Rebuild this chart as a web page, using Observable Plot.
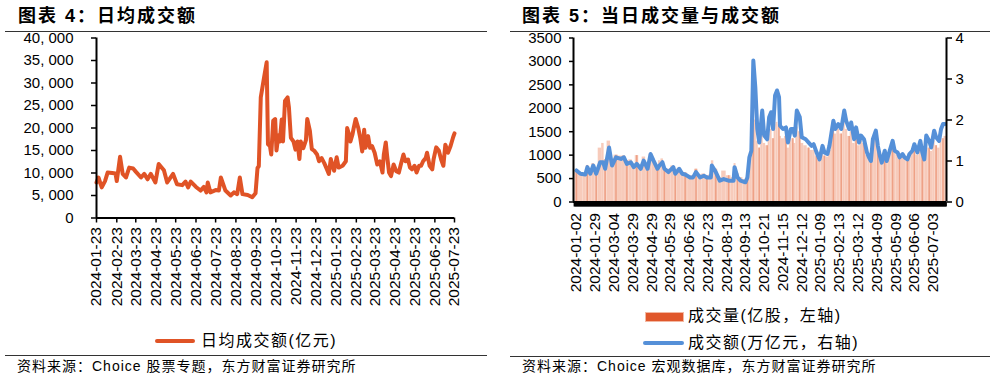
<!DOCTYPE html>
<html><head><meta charset="utf-8">
<script src="https://cdn.jsdelivr.net/npm/d3@7"></script>
<script src="https://cdn.jsdelivr.net/npm/@observablehq/plot@0.6"></script>
<style>
body{margin:0;background:#fff;width:997px;height:380px;position:relative;overflow:hidden;font-family:"Liberation Sans","Noto Sans CJK SC",sans-serif;color:#000;}
.abs{position:absolute;}
.title{position:absolute;font-family:"Liberation Sans","Noto Sans CJK SC",sans-serif;font-weight:bold;font-size:18px;letter-spacing:2px;line-height:18px;white-space:nowrap;}
.hr{position:absolute;height:0;border-top:1.5px solid #333;}
.src{position:absolute;font-family:"Liberation Sans","Noto Sans CJK SC",sans-serif;font-size:14px;letter-spacing:1px;line-height:14px;white-space:nowrap;}
.leg{position:absolute;font-family:"Liberation Sans","Noto Sans CJK SC",sans-serif;font-size:16px;letter-spacing:1.5px;line-height:16px;white-space:nowrap;}
svg{overflow:visible}
</style></head><body>
<div id="c1" class="abs" style="left:0;top:0"></div>
<div id="c2" class="abs" style="left:500px;top:0"></div>

<div class="title" style="left:18px;top:7px">图表 4：日均成交额</div>
<div class="hr" style="left:5px;top:31px;width:482px"></div>
<div class="abs" style="left:155px;top:339px;width:40px;height:4px;border-radius:2px;background:#e05326"></div>
<div class="leg" style="left:201px;top:333px">日均成交额(亿元)</div>
<div class="hr" style="left:5px;top:355px;width:482px"></div>
<div class="src" style="left:17px;top:359px">资料来源：Choice 股票专题，东方财富证券研究所</div>

<div class="title" style="left:522px;top:7px">图表 5：当日成交量与成交额</div>
<div class="hr" style="left:510px;top:31px;width:480px"></div>
<div class="abs" style="left:645px;top:312px;width:37px;height:8px;background:#e0572b;border:1px solid #f3b8a2"></div>
<div class="leg" style="left:688px;top:308px">成交量(亿股，左轴)</div>
<div class="abs" style="left:643px;top:341px;width:41px;height:4px;border-radius:2px;background:#5590d8"></div>
<div class="leg" style="left:688px;top:335px">成交额(万亿元，右轴)</div>
<div class="hr" style="left:510px;top:356px;width:480px"></div>
<div class="src" style="left:522px;top:359px">资料来源：Choice 宏观数据库，东方财富证券研究所</div>

<script>
// ---------- Chart 4: 日均成交额 (亿元) ----------
const avgDates = ["2024-01-23","2024-01-26","2024-01-31","2024-02-05","2024-02-09","2024-02-16","2024-02-21","2024-02-23","2024-02-28","2024-03-03","2024-03-08","2024-03-13","2024-03-19","2024-03-23","2024-03-31","2024-04-05","2024-04-10","2024-04-15","2024-04-22","2024-04-27","2024-05-05","2024-05-10","2024-05-19","2024-05-25","2024-06-02","2024-06-07","2024-06-11","2024-06-15","2024-06-23","2024-06-30","2024-07-05","2024-07-09","2024-07-11","2024-07-15","2024-07-23","2024-07-28","2024-07-31","2024-08-07","2024-08-15","2024-08-20","2024-08-25","2024-08-29","2024-09-02","2024-09-10","2024-09-17","2024-09-22","2024-09-25","2024-09-27","2024-09-30","2024-10-05","2024-10-09","2024-10-11","2024-10-14","2024-10-16","2024-10-19","2024-10-22","2024-10-24","2024-10-27","2024-10-29","2024-11-01","2024-11-03","2024-11-06","2024-11-10","2024-11-12","2024-11-15","2024-11-19","2024-11-22","2024-11-25","2024-11-28","2024-11-30","2024-12-04","2024-12-08","2024-12-10","2024-12-14","2024-12-17","2024-12-21","2024-12-25","2024-12-28","2025-01-01","2025-01-05","2025-01-08","2025-01-12","2025-01-15","2025-01-17","2025-01-20","2025-01-24","2025-01-27","2025-02-02","2025-02-07","2025-02-09","2025-02-12","2025-02-14","2025-02-17","2025-02-19","2025-02-22","2025-02-26","2025-03-01","2025-03-04","2025-03-07","2025-03-09","2025-03-13","2025-03-16","2025-03-19","2025-03-23","2025-03-27","2025-03-31","2025-04-04","2025-04-06","2025-04-09","2025-04-11","2025-04-14","2025-04-17","2025-04-21","2025-04-25","2025-04-29","2025-05-02","2025-05-06","2025-05-09","2025-05-13","2025-05-16","2025-05-19","2025-05-23","2025-05-26","2025-05-30","2025-06-02","2025-06-05","2025-06-09","2025-06-11","2025-06-15","2025-06-19","2025-06-21","2025-06-25","2025-06-29","2025-07-03","2025-07-06","2025-07-09","2025-07-13","2025-07-17","2025-07-21","2025-07-23"];
const avgValues = [7900,9000,6800,8200,10100,10000,9900,8200,13600,9800,9000,11200,11000,10300,9000,9800,8600,9800,7900,12000,10600,7900,9800,7500,7300,8100,6800,8100,6900,6100,6900,5700,7900,5700,6200,6100,9000,6100,5000,5700,5300,9000,5300,5100,4600,5500,11100,11500,26800,31200,34600,16400,16000,14100,21600,22000,15000,18400,17000,21900,17000,26000,26800,24600,17800,17000,15200,17000,13100,17000,15500,17300,22000,19400,15300,14900,14100,12600,13300,12200,11200,9800,13100,12000,10500,13500,11200,11600,12600,20000,18500,17000,18500,20000,22000,20000,17800,14800,19600,15600,18200,15600,16000,14500,11900,12600,10100,14100,16800,13900,10100,9300,11900,10400,10100,11900,14100,12600,13000,11200,10800,11600,10100,11600,11600,12600,13300,14500,11600,10800,13000,15700,15000,12800,11600,16300,14500,16000,18000,18800];
const avgTickLabels = ["2024-01-23","2024-02-23","2024-03-23","2024-04-23","2024-05-23","2024-06-23","2024-07-23","2024-08-23","2024-09-23","2024-10-23","2024-11-23","2024-12-23","2025-01-23","2025-02-23","2025-03-23","2025-04-23","2025-05-23","2025-06-23","2025-07-23"];
const avgYTicks = [0,5000,10000,15000,20000,25000,30000,35000,40000];

// ---------- Chart 5: 当日成交量与成交额 ----------
// position of each reading, in trading days counted from 2024-01-02
const dayIndex = [0,4,9,11,14,17,20,24,27,29,33,36,40,45,48,51,55,58,61,65,68,72,75,78,82,84,87,89,93,98,100,104,107,110,115,118,121,125,129,132,136,137,141,145,149,154,159,160,163,166,171,173,175,177,179,181,183,185,188,190,193,195,197,199,201,203,205,206,209,212,214,217,219,221,223,226,228,232,235,238,240,243,246,249,251,254,256,260,262,265,268,271,273,276,278,281,283,286,288,291,294,296,298,300,303,305,307,309,312,314,317,320,322,325,327,330,332,335,337,340,342,345,348,350,352,354,357,359,362,364,367,369,371,373];
// 成交量 (亿股, left axis)
const volume = [640,600,590,780,640,820,700,1150,1250,900,1300,880,1000,980,990,880,900,800,990,780,960,760,1020,900,760,880,920,740,700,770,640,720,650,620,560,560,700,580,600,560,580,880,700,520,660,560,520,820,600,520,480,560,900,1000,1950,1750,1300,1150,1500,1250,1200,1450,1550,1350,1650,1700,1650,1400,1350,1400,1150,1350,1350,1250,1600,1500,1250,1200,1150,1100,1100,980,880,1100,980,960,1100,1550,1450,1550,1450,1700,1550,1400,1500,1250,1400,1200,1300,1250,1000,950,880,1300,1400,1150,960,840,1050,880,1050,1200,1050,1000,920,980,920,880,980,1050,1150,1000,1200,1000,880,1250,1150,1080,1300,1200,1150,1300,1350,1400];
// 成交额 (万亿元, right axis)
const turnover = [0.77,0.69,0.67,0.85,0.69,0.89,0.69,0.97,0.97,0.81,1.33,0.89,1.09,1.05,1.09,0.93,0.97,0.85,0.93,0.81,1.01,0.81,1.17,1.01,0.81,0.89,0.97,0.81,0.73,0.85,0.69,0.81,0.69,0.67,0.60,0.60,0.73,0.60,0.64,0.60,0.60,0.89,0.73,0.52,0.56,0.52,0.52,0.85,0.60,0.52,0.48,0.60,1.09,1.25,3.45,2.80,1.78,1.45,2.23,1.62,1.53,2.07,2.19,1.78,2.60,2.72,2.56,1.86,1.78,1.82,1.45,1.78,1.78,1.62,2.23,2.07,1.58,1.53,1.45,1.37,1.41,1.21,1.04,1.37,1.21,1.17,1.37,1.98,1.78,1.90,1.78,2.23,1.98,1.78,1.94,1.53,1.82,1.45,1.62,1.53,1.21,1.09,1.00,1.53,1.74,1.37,1.13,0.96,1.25,1.00,1.25,1.49,1.25,1.21,1.09,1.17,1.09,1.04,1.17,1.25,1.41,1.21,1.49,1.21,1.04,1.62,1.49,1.33,1.74,1.58,1.49,1.78,1.90,1.90];
const dayTickLabels = ["2024-01-02","2024-01-29","2024-03-04","2024-03-29","2024-04-29","2024-05-29","2024-06-26","2024-07-23","2024-08-19","2024-09-13","2024-10-21","2024-11-15","2024-12-12","2025-01-09","2025-02-13","2025-03-12","2025-04-09","2025-05-09","2025-06-06","2025-07-03"];
const labelStep = 19;            // one date label every 19 trading days
const volYTicks = [0,500,1000,1500,2000,2500,3000,3500];
const amtYTicks = [0,1,2,3,4];

const FONT = "'Liberation Sans', 'Noto Sans CJK SC', sans-serif";

// ---- chart 4 ----
const avgData = avgDates.map((d, i) => ({date: new Date(d), v: avgValues[i]}));
const xDom1 = [new Date(avgTickLabels[0]), new Date(avgTickLabels[avgTickLabels.length - 1])];
const fmtK = v => d3.format(",")(v).replace(",", ", ");
const p1 = Plot.plot({
  width: 497, height: 330,
  marginTop: 37.5, marginBottom: 112.5, marginLeft: 96, marginRight: 43,
  style: {fontFamily: FONT, fontSize: "15px", color: "#000", background: "transparent"},
  x: {type: "utc", domain: xDom1, label: null},
  y: {domain: [0, 40000], label: null},
  marks: [
    Plot.axisY(avgYTicks, {label: null, tickSize: 5, tickPadding: 18, tickFormat: fmtK, strokeWidth: 1.5, fontSize: 15}),
    Plot.axisX(avgTickLabels.map(d => new Date(d)), {label: null, tickSize: 5, tickPadding: 4, tickRotate: -90, strokeWidth: 1.5, tickFormat: d3.utcFormat("%Y-%m-%d"), fontSize: 15.5}),
    Plot.lineY(avgData, {x: "date", y: "v", stroke: "#e05326", strokeWidth: 4, strokeLinejoin: "round", strokeLinecap: "round"}),
    Plot.ruleY([0], {stroke: "#000", strokeWidth: 2}),
    Plot.ruleX([xDom1[0]], {stroke: "#000", strokeWidth: 2})
  ]
});
document.getElementById("c1").append(p1);

// ---- chart 5 ----
const AMT_TO_VOL = 3500 / 4;   // right axis 0–4 shares the left axis 0–3500 range
const xDom2 = [-3, 374.5];
const volData = dayIndex.map((i, k) => ({
  i,
  x1: k === 0 ? i - 1.5 : (dayIndex[k - 1] + i) / 2,
  x2: k === dayIndex.length - 1 ? i + 1.5 : (i + dayIndex[k + 1]) / 2,
  vol: volume[k]
}));
const amtData = dayIndex.map((i, k) => ({i, a: turnover[k]}));
const labelIdx = dayTickLabels.map((_, k) => k * labelStep);
const allDays = d3.range(-2, 375);
const p2 = Plot.plot({
  width: 497, height: 305,
  marginTop: 37.5, marginBottom: 103.5, marginLeft: 73, marginRight: 51,
  style: {fontFamily: FONT, fontSize: "15px", color: "#000", background: "transparent"},
  x: {domain: xDom2, label: null},
  y: {domain: [0, 3500], label: null},
  marks: [
    Plot.rectY(volData, {x1: "x1", x2: "x2", y: "vol", fill: "#f7cbbb"}),
    Plot.ruleX(volData.filter((d, k) => k % 3 === 0), {x: "i", y1: 0, y2: "vol", stroke: "#eea186", strokeWidth: 1.5}),
    Plot.lineY(amtData, {x: "i", y: d => d.a * AMT_TO_VOL, stroke: "#5590d8", strokeWidth: 4, strokeLinejoin: "round", strokeLinecap: "round"}),
    Plot.axisY(volYTicks, {anchor: "left", label: null, tickSize: 4, tickPadding: 8, strokeWidth: 1.5, fontSize: 15, tickFormat: v => String(v)}),
    Plot.axisY(amtYTicks.map(v => v * AMT_TO_VOL), {anchor: "right", label: null, tickSize: 5, tickPadding: 4, strokeWidth: 1.5, fontSize: 15, tickFormat: v => String(Math.round(v / AMT_TO_VOL))}),
    Plot.axisX(allDays, {label: null, tickSize: 5, strokeWidth: 1.8, tickFormat: () => ""}),
    Plot.axisX(labelIdx, {label: null, tickSize: 0, tickPadding: 11, tickRotate: -90, fontSize: 15.5, tickFormat: d => dayTickLabels[Math.round(d / labelStep)]}),
    Plot.ruleY([0], {stroke: "#000", strokeWidth: 2}),
    Plot.ruleX([xDom2[0]], {stroke: "#000", strokeWidth: 2}),
    Plot.ruleX([xDom2[1]], {stroke: "#000", strokeWidth: 2})
  ]
});
document.getElementById("c2").append(p2);
</script>
</body></html>
